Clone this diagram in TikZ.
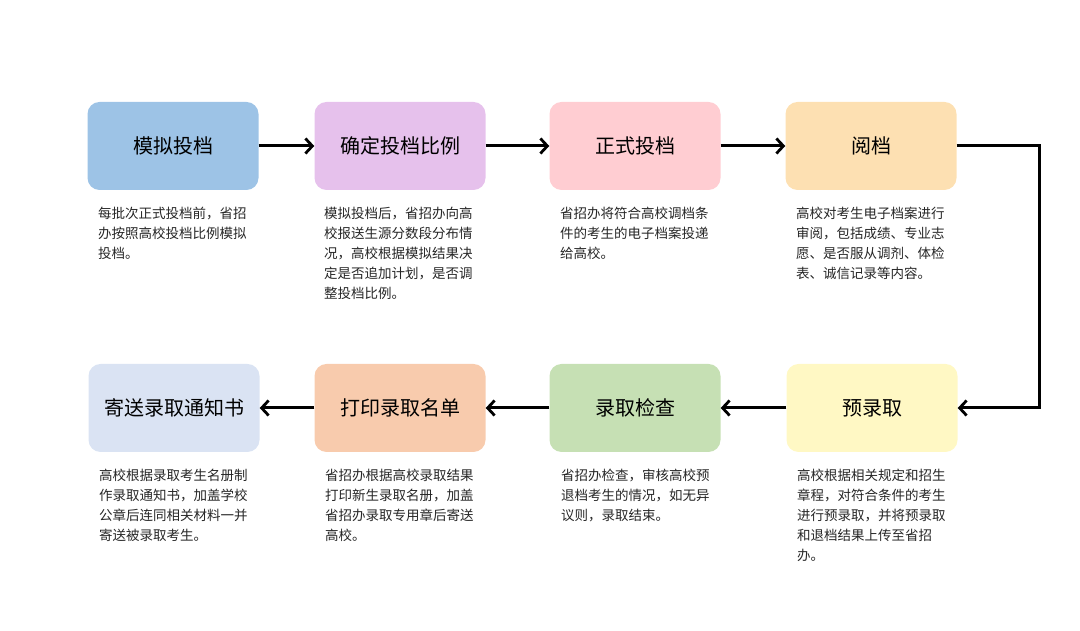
\documentclass[tikz,border=0pt]{standalone}
\usepackage{fontspec}
\setmainfont{Liberation Sans}
\newfontfamily\cjk{Noto Sans CJK SC}
\usetikzlibrary{arrows.meta}
\definecolor{cA}{HTML}{9DC3E6}
\definecolor{cB}{HTML}{E6C1EC}
\definecolor{cC}{HTML}{FFCDD2}
\definecolor{cD}{HTML}{FDE0B2}
\definecolor{cE}{HTML}{FFF8C4}
\definecolor{cF}{HTML}{C6E0B4}
\definecolor{cG}{HTML}{F8CBAD}
\definecolor{cH}{HTML}{DAE3F3}
\tikzset{
  x=1pt,y=1pt,
  stagebox/.style={rounded corners=12pt, minimum width=171pt, minimum height=88pt,
    inner sep=0pt, draw=none, font=\cjk\fontsize{20}{24}\selectfont, text=black},
  desc/.style={anchor=north west, inner sep=0pt, align=left,
    font=\cjk\fontsize{13.5}{20}\selectfont, text=black!85},
  flow/.style={line width=3pt, -{Straight Barb[length=7pt,width=15pt,line width=2.8pt]}}
}
\begin{document}
\begin{tikzpicture}
\useasboundingbox (0,0) rectangle (1080,631);
% row 1
\node[stagebox, fill=cA] (a) at (173,485) {模拟投档};
\node[stagebox, fill=cB] (b) at (400,485) {确定投档比例};
\node[stagebox, fill=cC] (c) at (635,485) {正式投档};
\node[stagebox, fill=cD] (d) at (871,485) {阅档};
% row 2
\node[stagebox, fill=cH] (h) at (174,223) {寄送录取通知书};
\node[stagebox, fill=cG] (g) at (400,223) {打印录取名单};
\node[stagebox, fill=cF] (f) at (635,223) {录取检查};
\node[stagebox, fill=cE] (e) at (872,223) {预录取};
% descriptions
\node[desc] (da) at (98,424) {每批次正式投档前，省招\\办按照高校投档比例模拟\\投档。};
\node[desc] (db) at (324,424) {模拟投档后，省招办向高\\校报送生源分数段分布情\\况，高校根据模拟结果决\\定是否追加计划，是否调\\整投档比例。};
\node[desc] (dc) at (560,424) {省招办将符合高校调档条\\件的考生的电子档案投递\\给高校。};
\node[desc] (dd) at (796,424) {高校对考生电子档案进行\\审阅，包括成绩、专业志\\愿、是否服从调剂、体检\\表、诚信记录等内容。};
\node[desc] (dh) at (99,162) {高校根据录取考生名册制\\作录取通知书，加盖学校\\公章后连同相关材料一并\\寄送被录取考生。};
\node[desc] (dg) at (325,162) {省招办根据高校录取结果\\打印新生录取名册，加盖\\省招办录取专用章后寄送\\高校。};
\node[desc] (df) at (561,162) {省招办检查，审核高校预\\退档考生的情况，如无异\\议则，录取结束。};
\node[desc] (de) at (797,162) {高校根据相关规定和招生\\章程，对符合条件的考生\\进行预录取，并将预录取\\和退档结果上传至省招\\办。};
% connectors
\draw[flow] (a) -- (b);
\draw[flow] (b) -- (c);
\draw[flow] (c) -- (d);
\draw[flow] (d.east) -- ++(83,0) |- (e.east);
\draw[flow] (e) -- (f);
\draw[flow] (f) -- (g);
\draw[flow] (g) -- (h);
\end{tikzpicture}
\end{document}
